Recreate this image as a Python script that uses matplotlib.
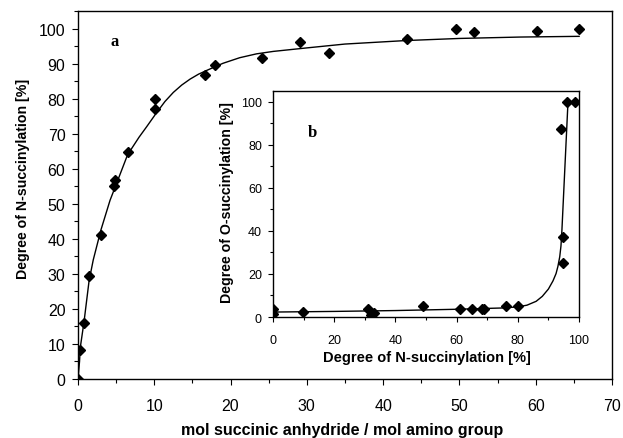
import matplotlib
matplotlib.use("Agg")
import matplotlib.pyplot as plt
from matplotlib.ticker import MultipleLocator

plt.rcParams['font.family'] = ['Liberation Sans', 'DejaVu Sans']

# Main panel (a): data points
main_x = [0, 0.26, 0.8, 1.45, 3.0, 4.85, 4.7, 6.5, 10.1, 10.1, 16.6, 18.0,
          24.1, 29.1, 32.9, 43.1, 49.5, 51.9, 60.2, 65.7]
main_y = [0, 8.3, 16.0, 29.4, 41.2, 56.9, 55.0, 64.8, 79.8, 77.1, 86.9, 89.7,
          91.7, 96.3, 93.1, 96.9, 100.0, 99.0, 99.4, 100.0]
# Main panel fitted curve
fit_x = [0, 0.2, 0.3, 0.8, 1.45, 2.0, 3.0, 4.2, 5.0, 6.5, 8.0, 9.0, 10.3, 11.4, 12.5,
         13.6, 14.7, 15.8, 16.9, 19.0, 21.2, 23.4, 25.6, 27.8, 30.0, 35.0, 43.0,
         50.0, 58.0, 65.7]
fit_y = [0, 5, 9, 16.5, 28, 34, 42.5, 51, 55.5, 64, 69, 72, 76, 79.2, 81.8,
         83.9, 85.6, 87.0, 88.1, 90.1, 91.7, 92.8, 93.5, 94.0, 94.5, 95.6, 96.6,
         97.2, 97.6, 97.8]

# Inset panel (b): data points
ins_x = [0, 0, 9.8, 31, 32, 33, 49, 61, 65, 68.3, 69, 76, 80,
         94.8, 94.8, 94, 96, 98.7]
ins_y = [3.7, 1.4, 2.5, 3.7, 1.0, 2.0, 5.0, 3.7, 3.7, 3.5, 3.5, 5.0, 5.0,
         37, 25, 87.4, 100, 100]
# Inset fitted curve
ins_fit_x = [0, 20, 40, 60, 75, 80, 83, 86, 88, 90, 91.5, 92.5, 93.1, 93.7,
             94.1, 94.4, 95.4, 96.4]
ins_fit_y = [2.3, 2.6, 3.0, 3.6, 4.2, 4.7, 5.5, 7.3, 9.6, 13.0, 16.8, 20.2,
             23.5, 28, 33, 40, 70, 100]

fig = plt.figure(figsize=(6.23, 4.39), dpi=100)
ax = fig.add_axes([0.1252, 0.1344, 0.857, 0.838])
ax.plot(fit_x, fit_y, color='black', lw=1.0)
ax.plot(main_x, main_y, linestyle='none', marker='D', color='black', markersize=5.5)
ax.set_xlim(0, 70)
ax.set_ylim(0, 105)
ax.xaxis.set_major_locator(MultipleLocator(10))
ax.xaxis.set_minor_locator(MultipleLocator(5))
ax.yaxis.set_major_locator(MultipleLocator(10))
ax.yaxis.set_minor_locator(MultipleLocator(5))
ax.set_yticks([0, 10, 20, 30, 40, 50, 60, 70, 80, 90, 100])
ax.tick_params(which='both', direction='out', labelsize=11.5, width=0.8)
ax.tick_params(which='major', length=4)
ax.tick_params(which='minor', length=3)
ax.tick_params(axis='x', which='major', pad=9.5)
ax.tick_params(axis='y', which='major', pad=5)
for s in ax.spines.values():
    s.set_linewidth(1.0)
ax.set_xlabel('mol succinic anhydride / mol amino group', fontsize=11.5,
              fontweight='bold')
ax.xaxis.set_label_coords(0.495, -0.118)
ax.set_ylabel('Degree of N-succinylation [%]', fontsize=10.2, fontweight='bold')
ax.yaxis.set_label_coords(-0.090, 0.546)
ax.text(4.8, 96.5, 'a', family='Liberation Serif', fontweight='bold', fontsize=12,
        ha='center', va='center')

ins = fig.add_axes([0.4382, 0.2756, 0.4912, 0.5148])
ins.plot(ins_fit_x, ins_fit_y, color='black', lw=1.0)
ins.plot(ins_x, ins_y, linestyle='none', marker='D', color='black', markersize=5.5)
ins.set_xlim(0, 100)
ins.set_ylim(0, 105)
ins.xaxis.set_major_locator(MultipleLocator(20))
ins.xaxis.set_minor_locator(MultipleLocator(10))
ins.yaxis.set_major_locator(MultipleLocator(20))
ins.yaxis.set_minor_locator(MultipleLocator(10))
ins.set_yticks([0, 20, 40, 60, 80, 100])
ins.tick_params(which='both', direction='out', labelsize=9, width=0.8)
ins.tick_params(which='major', length=3.5)
ins.tick_params(which='minor', length=2.5)
ins.tick_params(axis='x', which='major', pad=8.5)
ins.tick_params(axis='y', which='major', pad=4.5)
for s in ins.spines.values():
    s.set_linewidth(1.0)
ins.set_xlabel('Degree of N-succinylation [%]', fontsize=10.5, fontweight='bold')
ins.xaxis.set_label_coords(0.502, -0.148)
ins.set_ylabel('Degree of O-succinylation [%]', fontsize=10.2, fontweight='bold')
ins.yaxis.set_label_coords(-0.128, 0.513)
ins.text(13, 86, 'b', family='Liberation Serif', fontweight='bold', fontsize=12,
         ha='center', va='center')

fig.savefig('out.png', dpi=100)
